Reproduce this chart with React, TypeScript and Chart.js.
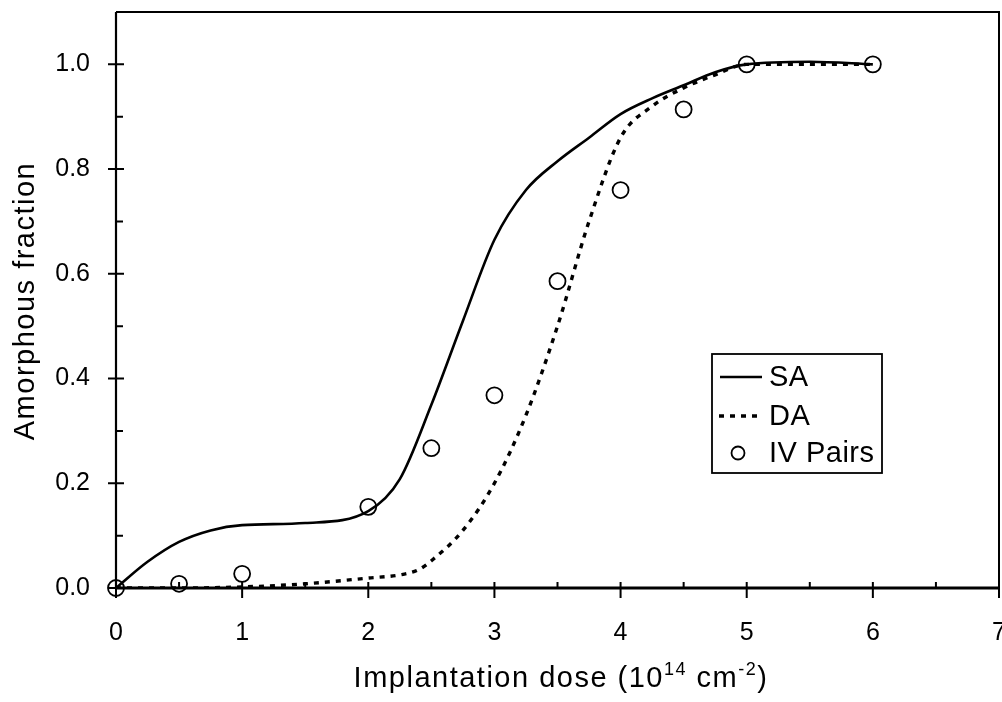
import React, { useEffect, useRef } from "react";
import { Chart, registerables } from "chart.js";

Chart.register(...registerables);

const X_TICKS = [0, 1, 2, 3, 4, 5, 6, 7];
const X_MINOR = [0.5, 1.5, 2.5, 3.5, 4.5, 5.5, 6.5];
const Y_TICKS = [0, 0.2, 0.4, 0.6, 0.8, 1.0];
const Y_MINOR = [0.1, 0.3, 0.5, 0.7, 0.9];

const SA_X = [0, 0.25, 0.5, 0.75, 1, 1.5, 2, 2.25, 2.5, 2.75, 3, 3.25, 3.5, 3.75, 4, 4.25, 4.5, 4.75, 5, 5.5, 6];
const SA_Y = [0, 0.05, 0.088, 0.11, 0.12, 0.124, 0.147, 0.208, 0.35, 0.51, 0.665, 0.76, 0.815, 0.86, 0.905, 0.935, 0.96, 0.985, 1.0, 1.005, 1.0];

const DA_X = [0, 0.5, 1, 1.5, 2, 2.25, 2.4, 2.5, 2.75, 3, 3.25, 3.5, 3.75, 4, 4.25, 4.5, 4.75, 5, 5.5, 6];
const DA_Y = [0, 0, 0.002, 0.008, 0.019, 0.025, 0.035, 0.052, 0.11, 0.2, 0.33, 0.5, 0.7, 0.86, 0.92, 0.955, 0.98, 1.0, 1.0, 1.0];

const IV_X = [0, 0.5, 1, 2, 2.5, 3, 3.5, 4, 4.5, 5, 6];
const IV_Y = [0, 0.008, 0.027, 0.155, 0.267, 0.368, 0.586, 0.76, 0.914, 1.0, 1.0];

const SERIES_LABELS = ["SA", "DA", "IV Pairs"];
const X_TITLE = ["Implantation dose (10", "14", " cm", "-2", ")"];
const Y_TITLE = "Amorphous fraction";

const FONT = "'Liberation Sans', Arial, Helvetica, sans-serif";

const pts = (xs: number[], ys: number[]) => xs.map((x, i) => ({ x, y: ys[i] }));

const setSpacing = (ctx: any, v: string) => {
  if ("letterSpacing" in ctx) ctx.letterSpacing = v;
};

const framePlugin = {
  id: "frameTicks",
  beforeDatasetsDraw(chart: any) {
    const { ctx, chartArea, scales } = chart;
    const { left, right, top, bottom } = chartArea;
    const xs = scales.x;
    const ys = scales.y;
    ctx.save();
    ctx.strokeStyle = "#000";
    ctx.lineCap = "butt";
    ctx.lineWidth = 2;
    ctx.beginPath();
    ctx.moveTo(left, top);
    ctx.lineTo(right, top);
    ctx.lineTo(right, bottom);
    ctx.stroke();
    ctx.lineWidth = 2.2;
    ctx.beginPath();
    ctx.moveTo(left, top);
    ctx.lineTo(left, bottom);
    ctx.stroke();
    ctx.lineWidth = 2.8;
    ctx.beginPath();
    ctx.moveTo(left - 1, bottom);
    ctx.lineTo(right, bottom);
    ctx.stroke();
    ctx.lineWidth = 2;
    ctx.beginPath();
    Y_TICKS.forEach((v) => {
      const p = ys.getPixelForValue(v);
      ctx.moveTo(left - 8, p);
      ctx.lineTo(left + 8, p);
    });
    Y_MINOR.forEach((v) => {
      const p = ys.getPixelForValue(v);
      ctx.moveTo(left, p);
      ctx.lineTo(left + 7, p);
    });
    X_TICKS.forEach((v) => {
      const p = xs.getPixelForValue(v);
      ctx.moveTo(p, bottom - 6);
      ctx.lineTo(p, bottom + 10);
    });
    X_MINOR.forEach((v) => {
      const p = xs.getPixelForValue(v);
      ctx.moveTo(p, bottom - 6);
      ctx.lineTo(p, bottom);
    });
    ctx.stroke();
    ctx.restore();
  },
  afterDraw(chart: any) {
    const { ctx, chartArea } = chart;
    ctx.save();
    ctx.fillStyle = "#000";
    const big = `29px ${FONT}`;
    const small = `18px ${FONT}`;
    setSpacing(ctx, "1.5px");
    const parts = X_TITLE.map((t, i) => ({ t, sup: i % 2 === 1 }));
    let total = 0;
    parts.forEach((p) => {
      ctx.font = p.sup ? small : big;
      total += ctx.measureText(p.t).width;
    });
    const cx = 561;
    let x = cx - total / 2;
    const base = 687;
    ctx.textBaseline = "alphabetic";
    ctx.textAlign = "left";
    parts.forEach((p) => {
      ctx.font = p.sup ? small : big;
      ctx.fillText(p.t, x, p.sup ? base - 12 : base);
      x += ctx.measureText(p.t).width;
    });
    ctx.font = `29px ${FONT}`;
    ctx.translate(26, (chartArea.top + chartArea.bottom) / 2 + 1);
    ctx.rotate(-Math.PI / 2);
    ctx.textAlign = "center";
    ctx.textBaseline = "middle";
    ctx.fillText(Y_TITLE, 0, 0);
    ctx.restore();

    ctx.save();
    const bx = 712, by = 354, bw = 170, bh = 119;
    ctx.fillStyle = "#fff";
    ctx.fillRect(bx, by, bw, bh);
    ctx.strokeStyle = "#000";
    ctx.lineWidth = 1.8;
    ctx.strokeRect(bx, by, bw, bh);
    const rows = [377, 416, 453];
    const ds = chart.data.datasets;
    ctx.font = `29px ${FONT}`;
    setSpacing(ctx, "0.5px");
    ctx.fillStyle = "#000";
    ctx.textBaseline = "middle";
    ctx.textAlign = "left";
    ctx.lineWidth = ds[0].borderWidth;
    ctx.setLineDash([]);
    ctx.beginPath();
    ctx.moveTo(720, rows[0]);
    ctx.lineTo(762, rows[0]);
    ctx.stroke();
    ctx.lineWidth = ds[1].borderWidth;
    ctx.setLineDash(ds[1].borderDash);
    ctx.beginPath();
    ctx.moveTo(719, rows[1]);
    ctx.lineTo(757, rows[1]);
    ctx.stroke();
    ctx.setLineDash([]);
    ctx.lineWidth = 1.8;
    ctx.beginPath();
    ctx.arc(738, rows[2], 6.5, 0, Math.PI * 2);
    ctx.stroke();
    ds.forEach((d: any, i: number) => {
      ctx.fillText(d.label, 769, rows[i] + 1);
    });
    ctx.restore();
  },
};

export default function App() {
  const ref = useRef<HTMLCanvasElement>(null);
  useEffect(() => {
    if (!ref.current) return;
    const chart = new Chart(ref.current, {
      type: "scatter",
      data: {
        datasets: [
          {
            label: SERIES_LABELS[0],
            data: pts(SA_X, SA_Y),
            showLine: true,
            borderColor: "#000",
            borderWidth: 2.6,
            pointRadius: 0,
            cubicInterpolationMode: "monotone",
            fill: false,
          },
          {
            label: SERIES_LABELS[1],
            data: pts(DA_X, DA_Y),
            showLine: true,
            borderColor: "#000",
            borderWidth: 3.4,
            borderDash: [5, 6],
            pointRadius: 0,
            cubicInterpolationMode: "monotone",
            fill: false,
          },
          {
            label: SERIES_LABELS[2],
            data: pts(IV_X, IV_Y),
            showLine: false,
            borderColor: "#000",
            backgroundColor: "rgba(0,0,0,0)",
            borderWidth: 1.8,
            pointRadius: 8,
            pointStyle: "circle",
            clip: false,
          },
        ],
      } as any,
      options: {
        animation: false,
        responsive: false,
        devicePixelRatio: 1,
        layout: { autoPadding: false, padding: { top: 12, right: 3, left: 0, bottom: 0 } },
        plugins: { legend: { display: false }, tooltip: { enabled: false } },
        scales: {
          x: {
            type: "linear",
            min: 0,
            max: 7,
            grid: { display: false, drawTicks: false },
            border: { display: false },
            afterBuildTicks: (s: any) => {
              s.ticks = X_TICKS.map((v) => ({ value: v }));
            },
            afterFit: (s: any) => {
              s.height = 114;
              s.paddingLeft = 0;
              s.paddingRight = 0;
            },
            ticks: {
              autoSkip: false,
              maxRotation: 0,
              padding: 30,
              color: "#000",
              font: { family: FONT, size: 25 },
              callback: (v: any) => String(v),
            },
          },
          y: {
            type: "linear",
            min: 0,
            max: 1.1,
            grid: { display: false, drawTicks: false },
            border: { display: false },
            afterBuildTicks: (s: any) => {
              s.ticks = Y_TICKS.map((v) => ({ value: v }));
            },
            afterFit: (s: any) => {
              s.width = 116;
              s.paddingTop = 0;
              s.paddingBottom = 0;
            },
            ticks: {
              autoSkip: false,
              padding: 26,
              color: "#000",
              font: { family: FONT, size: 25 },
              callback: (v: any) => Number(v).toFixed(1),
            },
          },
        },
      } as any,
      plugins: [framePlugin],
    });
    return () => chart.destroy();
  }, []);
  return (
    <div style={{ position: "fixed", left: 0, top: 0, width: 1002, height: 702, background: "#fff" }}>
      <canvas ref={ref} width={1002} height={702} style={{ display: "block" }} />
    </div>
  );
}
